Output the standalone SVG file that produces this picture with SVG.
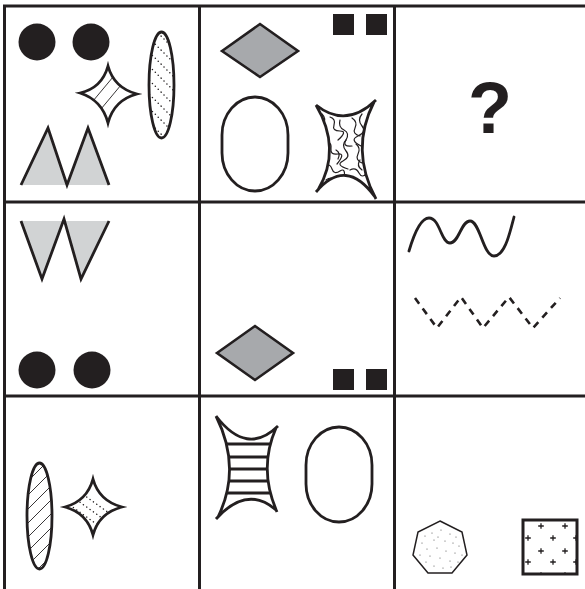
<svg xmlns="http://www.w3.org/2000/svg" width="585" height="589" viewBox="0 0 585 589">
<style>
.ln{stroke:#231f20;fill:none;stroke-width:3}
.ol{stroke:#231f20;stroke-width:2.8;fill:none;stroke-linejoin:miter}
.blk{fill:#231f20}
.lg{fill:#d1d3d4}
.dg{fill:#a7a9ac;stroke:#231f20;stroke-width:2.6}
.thin{stroke:#231f20;stroke-width:0.9;fill:none}
.dot{stroke:#231f20;stroke-width:1.4;fill:none;stroke-linecap:round;stroke-dasharray:0.1 4}
.dash{stroke:#231f20;stroke-width:2.6;fill:none;stroke-dasharray:7 6}
.sq{stroke:#231f20;stroke-width:1.2;fill:none;stroke-linecap:round}
.pt{fill:#555}
</style>
<defs>
<clipPath id="c1"><ellipse cx="161.5" cy="85" rx="12.5" ry="53"/></clipPath>
<clipPath id="c2"><path d="M108,66 Q114,88 137,94 Q114,100 108,123 Q102,100 80,93 Q102,88 108,66 Z"/></clipPath>
<clipPath id="c3"><path d="M318,108 Q346,129 374,102 Q349.5,150 375,197 Q346,156.5 318,190 Q342,149 318,108 Z"/></clipPath>
<clipPath id="c4"><ellipse cx="39.5" cy="516" rx="12.5" ry="53"/></clipPath>
<clipPath id="c5"><path d="M93,479 Q99,501 122,507 Q99,513 93,535 Q87,513 65,507 Q87,501 93,479 Z"/></clipPath>
<clipPath id="c6"><path d="M218,419 Q247,456.5 276,428 Q258,469 276,510 Q247,484.5 218,517 Q242,468 218,419 Z"/></clipPath>
<clipPath id="c7"><rect x="523" y="520" width="54" height="54"/></clipPath>
<path id="plus" d="M-2.8,0 H2.8 M0,-2.8 V2.8" stroke="#231f20" stroke-width="1.3"/>
</defs>

<g id="grid" class="ln">
<line x1="3" y1="6" x2="585" y2="6"/>
<line x1="3" y1="202" x2="585" y2="202"/>
<line x1="3" y1="396" x2="585" y2="396"/>
<line x1="4.5" y1="5" x2="4.5" y2="589"/>
<line x1="199.5" y1="5" x2="199.5" y2="589"/>
<line x1="394.5" y1="5" x2="394.5" y2="589"/>
</g>

<g id="cell-1-1">
<circle class="blk" cx="37" cy="42" r="18.5"/>
<circle class="blk" cx="91" cy="42" r="18.5"/>
<g clip-path="url(#c1)">
<path class="dot" d="M135,10 l60,60 M135,24 l60,60 M135,38 l60,60 M135,52 l60,60 M135,66 l60,60 M135,80 l60,60 M135,94 l60,60 M135,108 l60,60 M135,122 l60,60 M135,-4 l60,60"/>
</g>
<ellipse class="ol" cx="161.5" cy="85" rx="12.5" ry="53"/>
<g clip-path="url(#c2)">
<path class="thin" d="M83,113 L123,65 M91,121 L131,73"/>
</g>
<path class="ol" d="M108,66 Q114,88 137,94 Q114,100 108,123 Q102,100 80,93 Q102,88 108,66 Z"/>
<polygon class="lg" points="21,185 48,128 67,185 88,128 109,185"/>
<polyline class="ol" points="21,185 48,128 67,185 88,128 109,185"/>
</g>

<g id="cell-1-2">
<polygon class="dg" points="222,51 260,24 298,51 260,77"/>
<rect class="blk" x="333" y="14" width="21" height="21"/>
<rect class="blk" x="366" y="14" width="21" height="21"/>
<rect class="ol" x="222" y="97" width="66" height="94" rx="33" ry="38"/>
<g clip-path="url(#c3)">
<path class="sq" d="M322,114 q5,5 1,11 t3,12 t-2,12 t3,10"/>
<path class="sq" d="M330,117 q6,2 4,8 t6,6 t-2,9"/>
<path class="sq" d="M340,120 q-2,7 4,10 t2,10 t6,6"/>
<path class="sq" d="M352,118 q6,4 3,10 t5,8"/>
<path class="sq" d="M362,114 q-5,6 0,12 t-4,10 t3,10"/>
<path class="sq" d="M326,140 q6,3 5,9 t7,5 t-1,10"/>
<path class="sq" d="M346,140 q-5,5 0,11 t-3,10 t5,8"/>
<path class="sq" d="M356,144 q5,4 2,10 t4,9"/>
<path class="sq" d="M324,165 q6,-2 8,4 t8,2 t4,8"/>
<path class="sq" d="M336,150 q5,3 2,9"/>
<path class="sq" d="M350,170 q6,-3 9,3 t8,0"/>
<path class="sq" d="M326,180 q5,-4 10,0 t9,-1"/>
<path class="sq" d="M360,160 q-4,6 2,10"/>
</g>
<path class="ol" d="M316,105 Q346,129 376,100 M374,102 Q349.5,150 376,199 M375,197 Q346,156.5 316,192 M318,190 Q342,149 316,105"/>
</g>

<g id="cell-1-3">
<text x="490" y="133" font-family="Liberation Sans, Arial, sans-serif" font-weight="bold" font-size="72" text-anchor="middle" fill="#231f20">?</text>
</g>

<g id="cell-2-1">
<polygon class="lg" points="21,221 42,279 64,219 81,279 109,221"/>
<polyline class="ol" points="21,221 42,279 64,219 81,279 109,221"/>
<circle class="blk" cx="37" cy="370" r="18.5"/>
<circle class="blk" cx="92" cy="370" r="18.5"/>
</g>

<g id="cell-2-2">
<polygon class="dg" points="217,353 255,326 293,353 255,380"/>
<rect class="blk" x="333" y="369" width="21" height="21"/>
<rect class="blk" x="366" y="369" width="21" height="21"/>
</g>

<g id="cell-2-3">
<path class="ol" stroke-linecap="round" d="M409,251 C414,234 421,218 429,218 C440,218 441,243 450,243 C459,243 461,221 470,221 C480,221 483,256 494,256 C505,256 510,232 514,217"/>
<polyline class="dash" points="415,298 437,328 461,297 483,328 509,297 533,328 560,298"/>
</g>

<g id="cell-3-1">
<g clip-path="url(#c4)">
<path class="thin" d="M15,480 l50,-50 M15,494 l50,-50 M15,508 l50,-50 M15,522 l50,-50 M15,536 l50,-50 M15,550 l50,-50 M15,564 l50,-50 M15,578 l50,-50 M15,592 l50,-50 M15,606 l50,-50 M15,620 l50,-50"/>
</g>
<ellipse class="ol" cx="39.5" cy="516" rx="12.5" ry="53"/>
<g clip-path="url(#c5)">
<path class="dot" d="M60,478 l70,50 M60,488 l70,50 M60,498 l70,50 M60,508 l70,50"/>
</g>
<path class="ol" d="M93,479 Q99,501 122,507 Q99,513 93,535 Q87,513 65,507 Q87,501 93,479 Z"/>
</g>

<g id="cell-3-2">
<g clip-path="url(#c6)">
<path class="ln" d="M210,444 H285 M210,457 H285 M210,469 H285 M210,481 H285 M210,493 H285"/>
</g>
<path class="ol" d="M216,416 Q247,456.5 278,426 M276,428 Q258,469 277,512 M276,510 Q247,484.5 216,519 M218,517 Q242,468 216,416"/>
<rect class="ol" x="306" y="427" width="66" height="95" rx="33" ry="38"/>
</g>

<g id="cell-3-3">
<polygon points="440,521 462,532 467,555 452,573 428,573 413,555 418,532" fill="none" stroke="#231f20" stroke-width="1.5"/>
<g class="pt">
<circle cx="425" cy="536" r="0.6"/><circle cx="432" cy="533" r="0.6"/><circle cx="441" cy="530" r="0.6"/><circle cx="450" cy="534" r="0.6"/><circle cx="456" cy="537" r="0.6"/>
<circle cx="422" cy="543" r="0.6"/><circle cx="434" cy="540" r="0.6"/><circle cx="445" cy="541" r="0.6"/><circle cx="453" cy="543" r="0.6"/><circle cx="459" cy="546" r="0.6"/>
<circle cx="427" cy="549" r="0.6"/><circle cx="437" cy="548" r="0.6"/><circle cx="446" cy="551" r="0.6"/><circle cx="455" cy="553" r="0.6"/><circle cx="462" cy="555" r="0.6"/>
<circle cx="420" cy="555" r="0.6"/><circle cx="430" cy="556" r="0.6"/><circle cx="440" cy="558" r="0.6"/><circle cx="450" cy="561" r="0.6"/><circle cx="458" cy="562" r="0.6"/>
<circle cx="426" cy="562" r="0.6"/><circle cx="434" cy="566" r="0.6"/><circle cx="443" cy="568" r="0.6"/><circle cx="451" cy="567" r="0.6"/><circle cx="438" cy="537" r="0.6"/>
</g>
<g clip-path="url(#c7)">
<use href="#plus" x="541" y="526"/><use href="#plus" x="565" y="526"/>
<use href="#plus" x="528" y="538"/><use href="#plus" x="553" y="538"/><use href="#plus" x="576" y="538"/>
<use href="#plus" x="541" y="551"/><use href="#plus" x="565" y="551"/>
<use href="#plus" x="528" y="562"/><use href="#plus" x="553" y="562"/><use href="#plus" x="576" y="562"/>
<use href="#plus" x="541" y="575"/><use href="#plus" x="565" y="575"/>
</g>
<rect x="523" y="520" width="54" height="54" fill="none" stroke="#231f20" stroke-width="3"/>
</g>
</svg>
